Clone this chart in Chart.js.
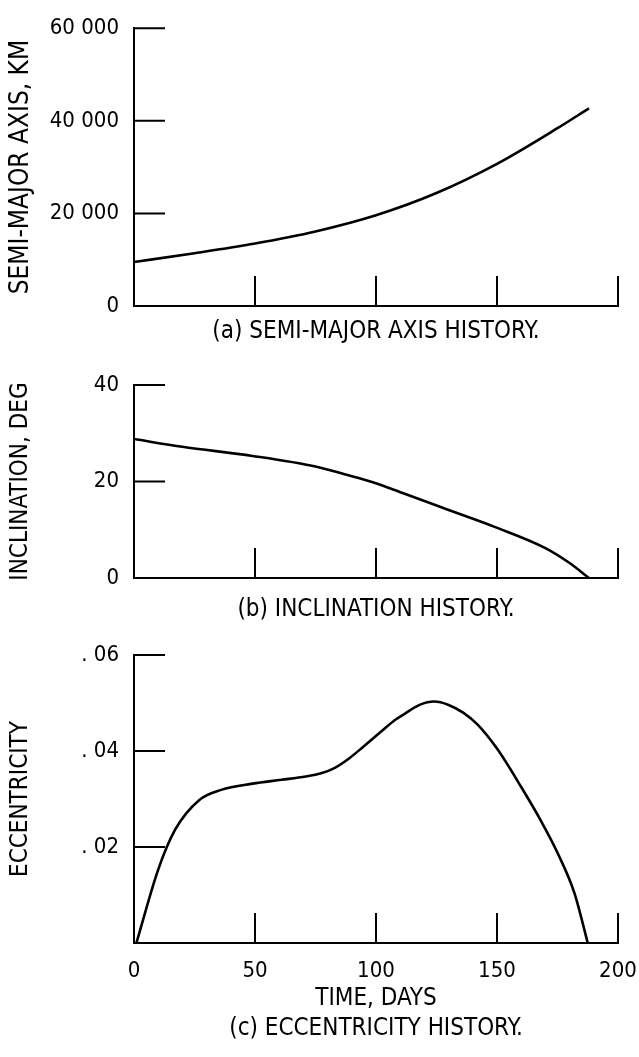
<!DOCTYPE html>
<html lang="en">
<head>
<meta charset="UTF-8">
<title>Orbit history</title>
<script src="https://cdn.jsdelivr.net/npm/chart.js"></script>
<style>
  body {
    margin: 0;
    background: #fff;
    width: 639px;
    height: 1057px;
    position: relative;
    overflow: hidden;
  }
  canvas {
    position: absolute;
    left: 0;
  }
  #chartA { top: 0; }
  #chartB { top: 350px; }
  #chartC { top: 625px; }
</style>
</head>
<body>
<canvas id="chartA" width="639" height="350"></canvas>
<canvas id="chartB" width="639" height="275"></canvas>
<canvas id="chartC" width="639" height="432"></canvas>

<script>
  // time axis (days)
  const dayTicks = [0, 50, 100, 150, 200];

  // (a) semi-major axis, km
  const semiDays = [0, 25, 50, 75, 100, 125, 150, 175, 188];
  const semiMajorKm = [9500, 11400, 13500, 16100, 19600, 24400, 30700, 38400, 42700];
  const semiTicks = [0, 20000, 40000, 60000];

  // (b) inclination, deg
  const incDays = [0, 20, 49, 75, 87, 99, 111, 130, 149, 170, 180, 188];
  const inclinationDeg = [28.8, 27.2, 25.3, 23.1, 21.5, 19.8, 17.6, 14.1, 10.6, 6.2, 3.1, 0];
  const incTicks = [0, 20, 40];

  // (c) eccentricity
  const eccDays = [1, 10, 17, 27, 36, 49, 61, 71, 77, 83, 89, 95, 102, 108, 112, 118, 124, 130, 136, 142, 150, 160, 168, 175, 182, 187.5];
  const eccentricity = [0, 0.0153, 0.0236, 0.0298, 0.0319, 0.0332, 0.034, 0.0347, 0.0353, 0.0365, 0.0385, 0.041,
    0.044, 0.0465, 0.0478, 0.0496, 0.0503, 0.0496, 0.048, 0.0455, 0.0405, 0.0325, 0.0256, 0.0188, 0.0104, 0];
  const eccTicks = [0, 0.02, 0.04, 0.06];

  const FONT = "'DejaVu Sans Condensed', 'Liberation Sans Narrow', 'Roboto', sans-serif";

  // short tick marks drawn inside the plot, like the original figure
  const innerTicks = {
    id: 'innerTicks',
    afterDraw(chart, args, opts) {
      const { ctx, chartArea, scales } = chart;
      ctx.save();
      ctx.strokeStyle = '#000';
      ctx.lineWidth = 2;
      ctx.beginPath();
      opts.y.forEach(v => {
        if (v === 0) return;
        const y = scales.y.getPixelForValue(v);
        ctx.moveTo(chartArea.left, y);
        ctx.lineTo(chartArea.left + 31, y);
      });
      opts.x.forEach(v => {
        if (v === 0) return;
        const x = scales.x.getPixelForValue(v);
        ctx.moveTo(x, chartArea.bottom);
        ctx.lineTo(x, chartArea.bottom - 30);
      });
      ctx.stroke();
      ctx.restore();
    }
  };

  function toPoints(xs, ys) {
    return xs.map((x, i) => ({ x: x, y: ys[i] }));
  }

  function makePanel(id, p) {
    return new Chart(document.getElementById(id), {
      type: 'line',
      data: {
        datasets: [{
          data: toPoints(p.xs, p.ys),
          borderColor: '#000',
          borderWidth: 2.6,
          pointRadius: 0,
          fill: false,
          cubicInterpolationMode: 'monotone'
        }]
      },
      plugins: [innerTicks],
      options: {
        responsive: false,
        animation: false,
        layout: { padding: { top: p.top, right: 21, left: 0, bottom: 0 } },
        plugins: {
          legend: { display: false },
          tooltip: { enabled: false },
          innerTicks: { x: dayTicks, y: p.yTicks }
        },
        scales: {
          x: {
            type: 'linear',
            min: 0,
            max: 200,
            afterBuildTicks: s => { s.ticks = dayTicks.map(v => ({ value: v })); },
            afterFit: s => {
              s.height = p.xHeight;
              s.paddingLeft = 0;
              s.paddingRight = 0;
            },
            grid: { display: false, drawTicks: false },
            border: { color: '#000', width: 2 },
            ticks: {
              display: p.xLabels,
              padding: 15,
              color: '#000',
              font: { family: FONT, size: 22 }
            },
            title: {
              display: true,
              text: p.caption,
              color: '#000',
              font: { family: FONT, size: 24, lineHeight: p.capLine },
              padding: { top: 0, bottom: p.capPad }
            }
          },
          y: {
            min: 0,
            max: p.yTicks[p.yTicks.length - 1],
            afterBuildTicks: s => { s.ticks = p.yTicks.map(v => ({ value: v })); },
            afterFit: s => { s.width = 134; },
            grid: { display: false, drawTicks: false },
            border: { color: '#000', width: 2 },
            ticks: {
              padding: 15,
              color: '#000',
              font: { family: FONT, size: 22 },
              callback: p.fmt
            },
            title: {
              display: true,
              text: p.yTitle,
              color: '#000',
              font: { family: FONT, size: p.yTitleSize },
              padding: { top: 6, bottom: 0 }
            }
          }
        }
      }
    });
  }

  makePanel('chartA', {
    xs: semiDays, ys: semiMajorKm, yTicks: semiTicks,
    top: 21, xHeight: 44, capPad: 4, capLine: 1.2, xLabels: false,
    caption: '(a) SEMI-MAJOR AXIS HISTORY.',
    yTitle: 'SEMI-MAJOR AXIS, KM', yTitleSize: 26,
    fmt: v => String(v).replace(/\B(?=(\d{3})+(?!\d))/g, ' ')
  });

  makePanel('chartB', {
    xs: incDays, ys: inclinationDeg, yTicks: incTicks,
    top: 35, xHeight: 47, capPad: 1, capLine: 1.2, xLabels: false,
    caption: '(b) INCLINATION HISTORY.',
    yTitle: 'INCLINATION, DEG', yTitleSize: 24,
    fmt: v => String(v)
  });

  makePanel('chartC', {
    xs: eccDays, ys: eccentricity, yTicks: eccTicks,
    top: 30, xHeight: 114, capPad: 13, capLine: 1.25, xLabels: true,
    caption: ['TIME, DAYS', '(c) ECCENTRICITY HISTORY.'],
    yTitle: 'ECCENTRICITY', yTitleSize: 24,
    fmt: v => v === 0 ? '' : '. ' + String(Math.round(v * 100)).padStart(2, '0')
  });
</script>
</body>
</html>
